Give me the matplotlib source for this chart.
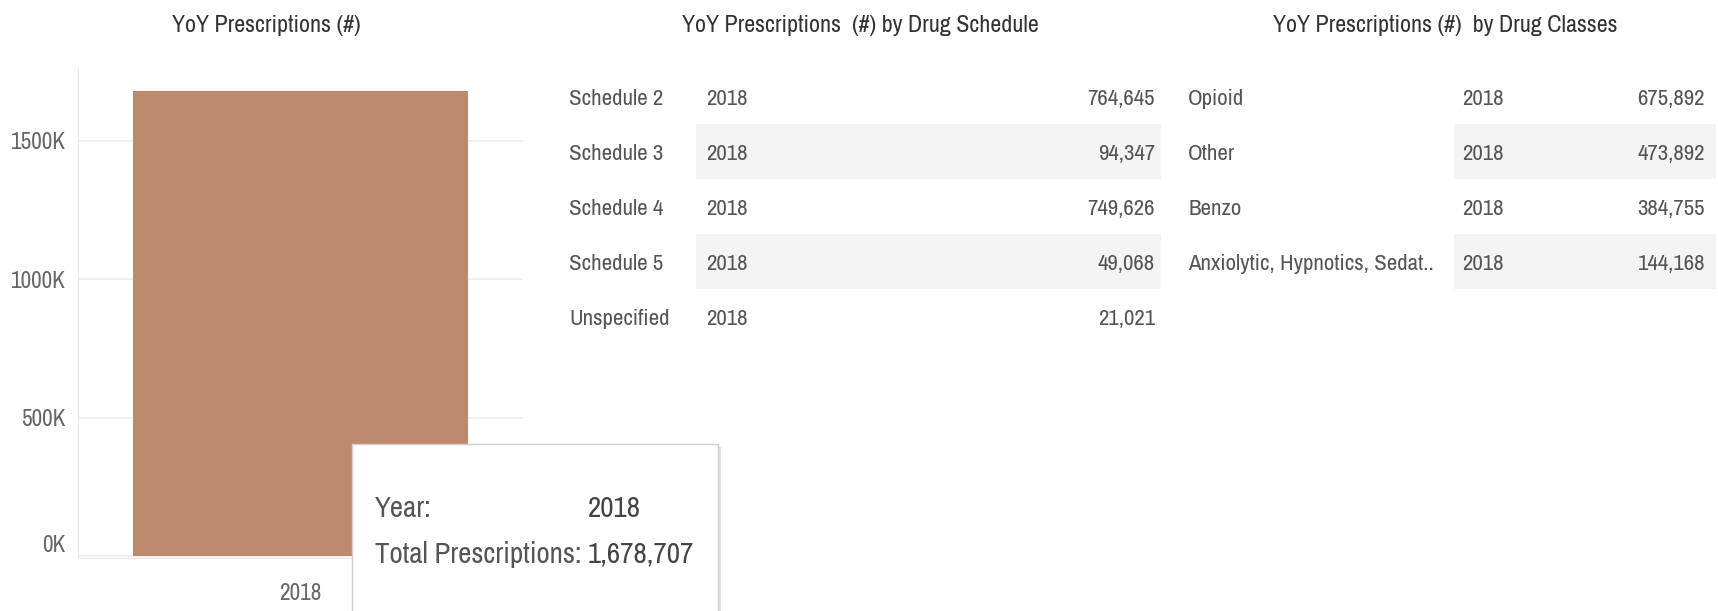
import matplotlib
matplotlib.use("Agg")
import matplotlib.pyplot as plt
from matplotlib import font_manager
from matplotlib.font_manager import FontProperties
from matplotlib.patches import Rectangle
from matplotlib.textpath import TextPath

# data
years = ["2018"]
total_prescriptions = [1678707]

schedule_names = ["Schedule 2", "Schedule 3", "Schedule 4", "Schedule 5", "Unspecified"]
schedule_years = ["2018", "2018", "2018", "2018", "2018"]
schedule_values = [764645, 94347, 749626, 49068, 21021]

class_names = ["Opioid", "Other", "Benzo", "Anxiolytic, Hypnotics, Sedat.."]
class_years = ["2018", "2018", "2018", "2018"]
class_values = [675892, 473892, 384755, 144168]

y_ticks = [0, 500000, 1000000, 1500000]


# Tableau uses a narrow font; grab the narrowest regular face we can find
def pick_font():
    best = None
    for f in font_manager.fontManager.ttflist:
        key = (f.name + " " + f.fname).lower()
        if "bold" in key or "italic" in key or "oblique" in key or "light" in key or "mono" in key:
            continue
        if f.weight not in (400, "normal", "regular", "book"):
            continue
        if "narrow" in key:
            rank = 0
        elif "semicondensed" in key or "semi condensed" in key:
            rank = 2
        elif "extracondensed" in key or "extra condensed" in key:
            rank = 3
        elif "condensed" in key:
            rank = 1
        else:
            continue
        if best is None or rank < best[0]:
            best = (rank, f.fname)
    if best is None:
        return FontProperties(family="Roboto")
    return FontProperties(fname=best[1])


FP = pick_font()
DPI = 100


def fit_size(sample, width_px, asc_px):
    # point size giving the sample string the wanted width, capped by height
    w = TextPath((0, 0), sample, size=72, prop=FP).get_extents().width
    by_width = width_px * 72 * 72 / (w * DPI)
    h = TextPath((0, 0), "H", size=72, prop=FP).get_extents().height
    by_height = asc_px * 72 * 72 / (h * DPI) * 1.08
    return min(by_width, by_height)


def prop(size):
    p = FP.copy()
    p.set_size(size)
    return p


ROW_FS = fit_size("Schedule 2", 92, 19)
TITLE_FS = fit_size("YoY Prescriptions (#)", 187, 21)
TICK_FS = fit_size("1500K", 54, 19)
TIP_FS = fit_size("Total Prescriptions: 1,678,707", 318, 23)

W, H = 1718, 611
fig = plt.figure(figsize=(W / DPI, H / DPI), dpi=DPI)

TEXT = "#555555"
TITLE = "#333333"
BAND = "#f4f4f4"
BAR = "#be8a6e"

# --- bar chart (left panel) ---
ax = fig.add_axes([78 / W, 1 - 558 / H, 445 / W, 490 / H])
ax.bar(range(len(years)), total_prescriptions, width=0.755, color=BAR, zorder=2)
ax.set_xlim(-0.5, 0.5)
ax.set_ylim(-7200, 1762000)
ax.set_yticks(y_ticks)
ax.set_yticklabels([f"{int(v / 1000)}K" for v in y_ticks], fontproperties=prop(TICK_FS), color="#666666")
ax.set_xticks(range(len(years)))
ax.set_xticklabels(years, fontproperties=prop(TICK_FS), color="#666666")
ax.tick_params(length=0)
ax.tick_params(axis="y", pad=9)
ax.tick_params(axis="x", pad=18)
ax.grid(axis="y", color="#ececec", lw=1.2, zorder=0)
for s in ["top", "right"]:
    ax.spines[s].set_visible(False)
ax.spines["left"].set_color("#e8e8e8")
ax.spines["bottom"].set_color("#e8e8e8")
ax.get_yticklabels()[0].set_va("bottom")

# --- overlay for the two text tables and the tooltip ---
ov = fig.add_axes([0, 0, 1, 1], facecolor="none")
ov.set_xlim(0, W)
ov.set_ylim(H, 0)
ov.axis("off")

title_y = 32
ov.text(266, title_y, "YoY Prescriptions (#)", ha="center", va="baseline", fontproperties=prop(TITLE_FS), color=TITLE)
ov.text(860, title_y, "YoY Prescriptions  (#) by Drug Schedule", ha="center", va="baseline",
        fontproperties=prop(TITLE_FS), color=TITLE)
ov.text(1445, title_y, "YoY Prescriptions (#)  by Drug Classes", ha="center", va="baseline",
        fontproperties=prop(TITLE_FS), color=TITLE)

row0, row_h = 96, 55


def draw_table(names, yrs, values, x_name, x_year, x_val, band_x0, band_x1):
    for i, (n, yr, v) in enumerate(zip(names, yrs, values)):
        yc = row0 + i * row_h
        if i % 2 == 1:
            ov.add_patch(Rectangle((band_x0, yc - row_h / 2), band_x1 - band_x0, row_h,
                                   facecolor=BAND, lw=0, zorder=0))
        yb = yc + 9
        ov.text(x_name, yb, n, ha="left", va="baseline", fontproperties=prop(ROW_FS), color=TEXT)
        ov.text(x_year, yb, yr, ha="left", va="baseline", fontproperties=prop(ROW_FS), color=TEXT)
        ov.text(x_val, yb, f"{v:,}", ha="right", va="baseline", fontproperties=prop(ROW_FS), color=TEXT)


draw_table(schedule_names, schedule_years, schedule_values, 569, 706, 1155, 696, 1161)
draw_table(class_names, class_years, class_values, 1188, 1462, 1705, 1454, 1716)

# tooltip box
ov.add_patch(Rectangle((355, 447), 366, 170, facecolor="#e4e4e4", lw=0, zorder=3))
ov.add_patch(Rectangle((352, 444), 366, 170, facecolor="white", edgecolor="#d0d0d0", lw=1, zorder=4))
ov.text(375, 517, "Year:", ha="left", va="baseline", fontproperties=prop(TIP_FS), color=TEXT, zorder=5)
ov.text(588, 517, years[0], ha="left", va="baseline", fontproperties=prop(TIP_FS), color="#444444", zorder=5)
ov.text(375, 563, "Total Prescriptions:", ha="left", va="baseline", fontproperties=prop(TIP_FS), color=TEXT, zorder=5)
ov.text(588, 563, f"{total_prescriptions[0]:,}", ha="left", va="baseline", fontproperties=prop(TIP_FS),
        color="#444444", zorder=5)

fig.savefig("out.png", dpi=DPI)
